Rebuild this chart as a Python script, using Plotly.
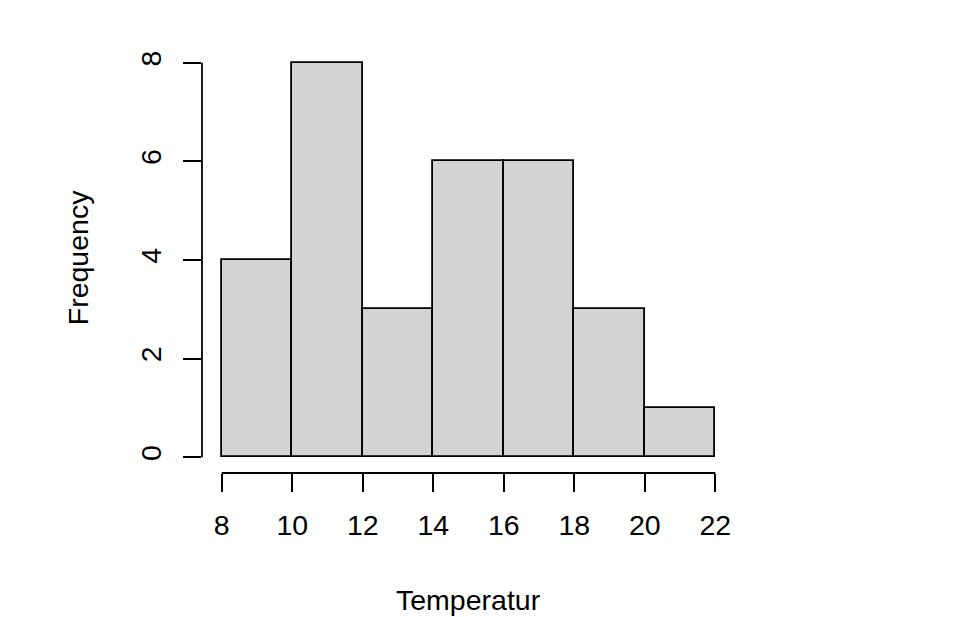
import plotly.graph_objects as go

bin_edges = [8, 10, 12, 14, 16, 18, 20, 22]
counts = [4, 8, 3, 6, 6, 3, 1]
x_ticks = [8, 10, 12, 14, 16, 18, 20, 22]
y_ticks = [0, 2, 4, 6, 8]
x_title = "Temperatur"
y_title = "Frequency"

mids = [(a + b) / 2 for a, b in zip(bin_edges[:-1], bin_edges[1:])]
widths = [b - a for a, b in zip(bin_edges[:-1], bin_edges[1:])]

FONT = "Liberation Sans, Arial, sans-serif"
FS = 28.5
LW = 1.8

fig = go.Figure()
fig.add_trace(go.Bar(
    x=mids, y=counts, width=widths,
    marker=dict(color="#D3D3D3", line=dict(color="black", width=LW)),
    showlegend=False, hoverinfo="skip",
))

xr = [min(x_ticks), max(x_ticks)]
yr = [min(y_ticks), max(y_ticks)]
xpad = 0.04 * (xr[1] - xr[0])
ypad = 0.04 * (yr[1] - yr[0])

fig.update_layout(
    width=977, height=617,
    margin=dict(l=202, r=242, t=47, b=144, pad=0),
    paper_bgcolor="white", plot_bgcolor="white",
    font=dict(family=FONT, size=FS, color="black"),
    bargap=0,
    xaxis=dict(
        range=[xr[0] - xpad, xr[1] + xpad], tickvals=x_ticks,
        ticktext=[str(v) for v in x_ticks],
        showgrid=False, zeroline=False, showline=False,
        ticks="outside", ticklen=18, tickwidth=LW, tickcolor="black",
        ticklabelstandoff=9,
        tickfont=dict(family=FONT, size=FS, color="black"),
    ),
    yaxis=dict(
        range=[yr[0] - ypad, yr[1] + ypad], tickvals=y_ticks,
        ticktext=[str(v) for v in y_ticks],
        showgrid=False, zeroline=False, showline=False,
        ticks="outside", ticklen=18, tickwidth=LW, tickcolor="black",
        tickangle=-90, ticklabelstandoff=11,
        tickfont=dict(family=FONT, size=FS, color="black"),
    ),
    shapes=[
        dict(type="line", xref="x", yref="paper", x0=xr[0], x1=xr[1], y0=0, y1=0,
             line=dict(color="black", width=LW)),
        dict(type="line", xref="paper", yref="y", x0=0, x1=0, y0=yr[0], y1=yr[1],
             line=dict(color="black", width=LW)),
    ],
    annotations=[
        dict(text=x_title, xref="paper", yref="paper", x=0.5, y=-(599 - 472.5) / 425.5,
             showarrow=False, xanchor="center", yanchor="middle",
             font=dict(family=FONT, size=FS, color="black")),
        dict(text=y_title, xref="paper", yref="paper", x=-(202 - 78) / 533, y=(472.5 - 258) / 425.5,
             showarrow=False, xanchor="center", yanchor="middle", textangle=-90,
             font=dict(family=FONT, size=FS, color="black")),
    ],
)

fig.write_html("out.html")
